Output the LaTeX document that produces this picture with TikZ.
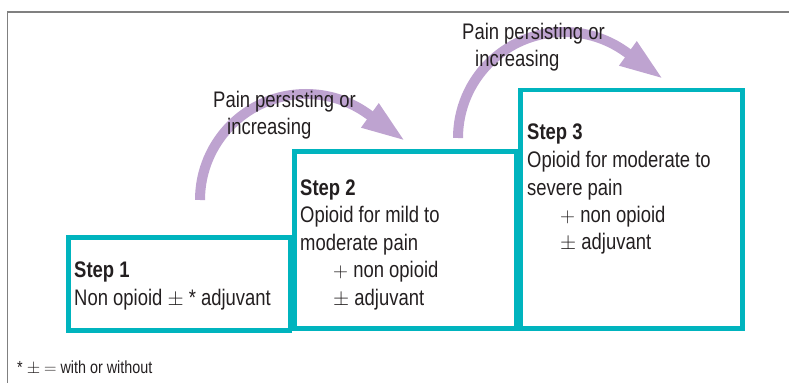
\documentclass[tikz,border=0pt]{standalone}
\usepackage{fontspec}
\setmainfont[FakeStretch=0.82]{Liberation Sans}
\usetikzlibrary{arrows.meta}
\definecolor{stepcyan}{RGB}{0,180,190}
\definecolor{painpurple}{RGB}{190,163,208}
\definecolor{inkgray}{RGB}{35,31,32}

\begin{document}
\begin{tikzpicture}[x=1pt,y=1pt,
	step_box/.style={draw=stepcyan,line width=4.5pt,minimum width=221.5pt,inner sep=0pt,anchor=south west},
	step_text/.style={anchor=base west,align=left,inner sep=0pt,text=inkgray,font=\fontsize{22.5}{27.5}\selectfont},
	note_text/.style={anchor=base west,inner sep=0pt,text=inkgray,font=\fontsize{17.5}{20}\selectfont},
	pain_arrow/.style={draw=painpurple,line width=10pt,-{Triangle[length=44pt,width=27pt]}}]

		\useasboundingbox (0,0) rectangle (789,383);
		\draw[gray, line width=1.5pt] (789,371) -- (7.5,371) -- (7.5,0);

		\coordinate (a1) at (200,183);
		\coordinate (b1) at (405.5,241.8);
		\coordinate (a2) at (458,245);
		\coordinate (b2) at (663.5,303.8);

		\draw[pain_arrow] (a1) arc[start angle=180,end angle=54,radius=106] -- (b1);
		\draw[pain_arrow] (a2) arc[start angle=180,end angle=54,radius=106] -- (b2);

		\node[step_box,minimum height=92.5pt] (1) at (66,50.5) {};
		\node[step_box,minimum height=176.5pt] (2) at (292,52.5) {};
		\node[step_box,minimum height=238pt,minimum width=222pt] (3) at (518,52.5) {};

		% last line of each text sits on the given point
		\node[step_text] (4) at (74,78) {\textbf{Step 1}\\Non opioid $\pm$ * adjuvant};
		\node[step_text] (5) at (300,78) {\textbf{Step 2}\\Opioid for mild to\\moderate pain\\\hspace*{33pt}$+$ non opioid\\\hspace*{33pt}$\pm$ adjuvant};
		\node[step_text] (6) at (527,133) {\textbf{Step 3}\\Opioid for moderate to\\severe pain\\\hspace*{33pt}$+$ non opioid\\\hspace*{33pt}$\pm$ adjuvant};

		\node[step_text] (7) at (213,248) {Pain persisting or\\\hspace*{14pt}increasing};
		\node[step_text] (8) at (462,316) {Pain persisting or\\\hspace*{13pt}increasing};

		\node[note_text] (9) at (17,10) {*\ $\pm$ $=$ with or without};
		\end{tikzpicture}
\end{document}
